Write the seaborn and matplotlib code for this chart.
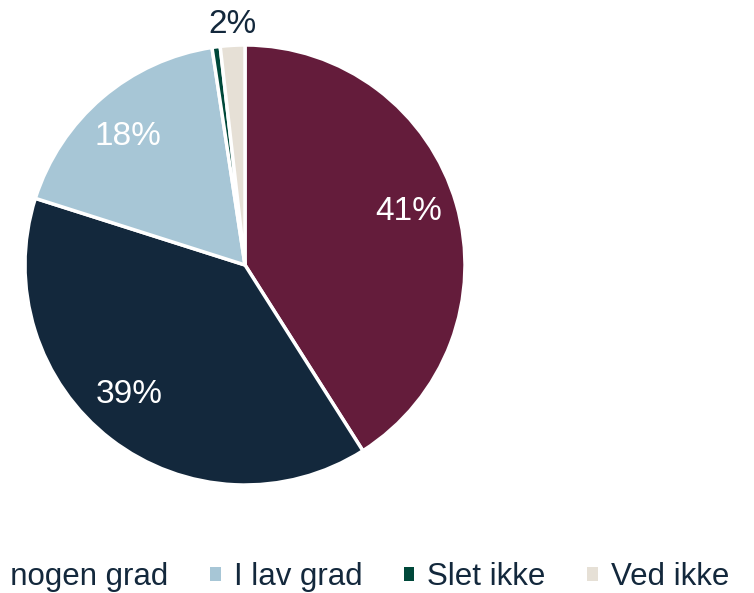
import seaborn as sns
import matplotlib.pyplot as plt
from matplotlib.patches import Patch
import numpy as np

# Data
labels = ['I høj grad', 'I nogen grad', 'I lav grad', 'Slet ikke', 'Ved ikke']
shares = [41.0, 38.9, 17.7, 0.6, 1.8]
colors = ['#641c3b', '#13283c', '#a7c6d6', '#00483a', '#e6e0d6']
pct_text = ['41%', '39%', '18%', '', '2%']
text_color = ['white', 'white', 'white', 'white', '#13283c']

# label placement (radius, counter-clockwise nudge in degrees)
label_r = [0.79, 0.777, 0.80, 0.0, 1.11]
label_nudge = [3.1, -5.1, 1.0, 0.0, -0.2]

sns.set_theme(style='white')
plt.rcParams['font.family'] = ['Liberation Sans', 'DejaVu Sans']

fig = plt.figure(figsize=(7.54, 5.93), dpi=100)
ax = fig.add_axes([25 / 754, 108 / 593, 440 / 754, 440 / 593])

wedges, _ = ax.pie(shares, colors=colors, startangle=90, counterclock=False,
                   wedgeprops=dict(edgecolor='white', linewidth=2.5))
ax.set_xlim(-1, 1)
ax.set_ylim(-1, 1)
ax.set_aspect('equal')
ax.axis('off')

# Percentage labels
start = 90.0
total = sum(shares)
for val, txt, col, r, nudge in zip(shares, pct_text, text_color, label_r, label_nudge):
    span = 360 * val / total
    mid = np.deg2rad(start - span / 2 + nudge)
    start -= span
    if not txt:
        continue
    ax.text(r * np.cos(mid), r * np.sin(mid), txt, ha='center', va='center_baseline',
            fontsize=24, color=col, clip_on=False)

# legend (left part runs off the figure, as in the original)
handles = [Patch(facecolor=c, edgecolor='none') for c in colors]
fig.legend(handles, labels, loc='center right', bbox_to_anchor=(729 / 754, 16 / 593),
           ncol=5, frameon=False, fontsize=22.5, handlelength=0.34, handleheight=0.34,
           handletextpad=0.42, columnspacing=1.32, borderpad=0, borderaxespad=0,
           labelcolor='#13283c')

fig.savefig('out.png', dpi=100)
